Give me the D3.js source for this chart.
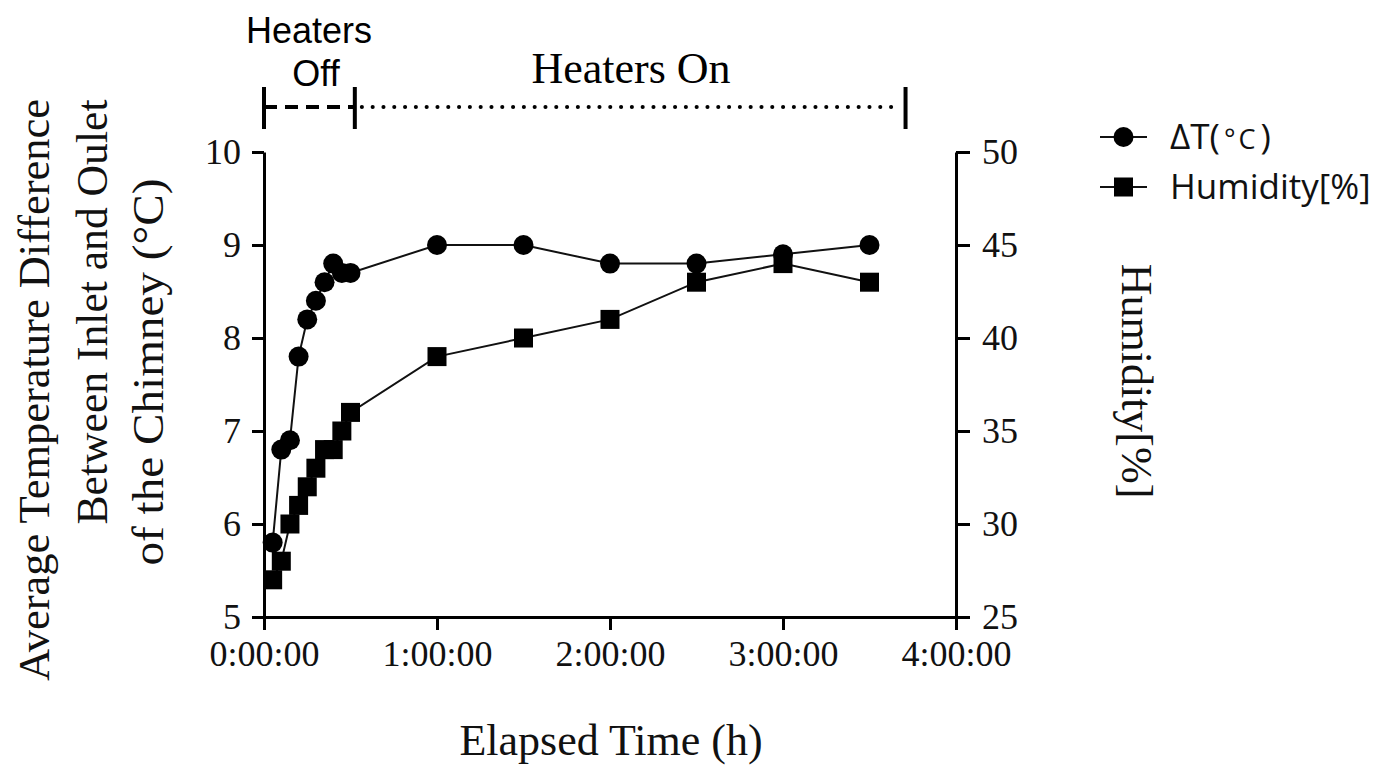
<!DOCTYPE html>
<html>
<head>
<meta charset="utf-8">
<script src="https://cdn.jsdelivr.net/npm/d3@7"></script>
<style>
  body { margin: 0; background: #fff; }
  svg { display: block; }
</style>
</head>
<body>
<svg id="chart" width="1384" height="769"></svg>
<script>
// elapsed time in minutes
const times = [3, 6, 9, 12, 15, 18, 21, 24, 27, 30, 60, 90, 120, 150, 180, 210];
// average temperature difference inlet/outlet (°C)
const deltaT = [5.8, 6.8, 6.9, 7.8, 8.2, 8.4, 8.6, 8.8, 8.7, 8.7, 9.0, 9.0, 8.8, 8.8, 8.9, 9.0];
// humidity (%)
const humidity = [27, 28, 30, 31, 32, 33, 34, 34, 35, 36, 39, 40, 41, 43, 44, 43];

const xTicks = [0, 60, 120, 180, 240];
const xTickLabels = ["0:00:00", "1:00:00", "2:00:00", "3:00:00", "4:00:00"];
const leftTicks = [5, 6, 7, 8, 9, 10];
const rightTicks = [25, 30, 35, 40, 45, 50];

// heater phases (minutes)
const phaseEdges = [0, 31.5, 222.5];
const legendLabels = ["ΔT", "Humidity[%]"];

const serif = "'Liberation Serif', 'Times New Roman', serif";
const sans = "'Liberation Sans', Arial, sans-serif";

const svg = d3.select("#chart");

const x = d3.scaleLinear().domain([0, 240]).range([264, 956]);
const yL = d3.scaleLinear().domain([5, 10]).range([617, 152]);
const yR = d3.scaleLinear().domain([25, 50]).range([617, 152]);

function styleAxis(g) {
    g.select(".domain").attr("stroke", "#000").attr("stroke-width", 3);
    g.selectAll(".tick line").attr("stroke", "#000").attr("stroke-width", 3);
    g.selectAll(".tick text")
        .attr("font-family", serif)
        .attr("font-size", 36)
        .attr("fill", "#111");
}

// axes
svg.append("g")
    .attr("transform", "translate(0,617)")
    .call(d3.axisBottom(x).tickValues(xTicks)
        .tickFormat(function (d, i) { return xTickLabels[i]; })
        .tickSize(13).tickSizeOuter(0).tickPadding(10))
    .call(styleAxis);

svg.append("g")
    .attr("transform", "translate(264,0)")
    .call(d3.axisLeft(yL).tickValues(leftTicks).tickFormat(d3.format("d"))
        .tickSize(12).tickSizeOuter(0).tickPadding(11))
    .call(styleAxis);

svg.append("g")
    .attr("transform", "translate(956,0)")
    .call(d3.axisRight(yR).tickValues(rightTicks).tickFormat(d3.format("d"))
        .tickSize(14).tickSizeOuter(0).tickPadding(12))
    .call(styleAxis);

// series lines
let tData = times.map(function (t, i) { return {t: t, v: deltaT[i]}; });
let hData = times.map(function (t, i) { return {t: t, v: humidity[i]}; });

let tLine = d3.line()
    .x(function (d) { return x(d.t); })
    .y(function (d) { return yL(d.v); });
let hLine = d3.line()
    .x(function (d) { return x(d.t); })
    .y(function (d) { return yR(d.v); });

svg.append("path").datum(hData)
    .attr("d", hLine)
    .attr("fill", "none").attr("stroke", "#111").attr("stroke-width", 2);
svg.append("path").datum(tData)
    .attr("d", tLine)
    .attr("fill", "none").attr("stroke", "#111").attr("stroke-width", 2);

svg.append("g").selectAll("rect").data(hData).enter().append("rect")
    .attr("x", function (d) { return x(d.t) - 9.5; })
    .attr("y", function (d) { return yR(d.v) - 9.5; })
    .attr("width", 19).attr("height", 19)
    .attr("fill", "#000");

svg.append("g").selectAll("circle").data(tData).enter().append("circle")
    .attr("cx", function (d) { return x(d.t); })
    .attr("cy", function (d) { return yL(d.v); })
    .attr("r", 10)
    .attr("fill", "#000");

// heater phase bracket
let br = svg.append("g");
br.append("line")
    .attr("x1", x(phaseEdges[0])).attr("x2", x(phaseEdges[1]))
    .attr("y1", 107).attr("y2", 107)
    .attr("stroke", "#000").attr("stroke-width", 4)
    .attr("stroke-dasharray", "13,8");
br.append("line")
    .attr("x1", x(phaseEdges[1]) + 7).attr("x2", x(phaseEdges[2]) - 4)
    .attr("y1", 107).attr("y2", 107)
    .attr("stroke", "#000").attr("stroke-width", 4)
    .attr("stroke-linecap", "round")
    .attr("stroke-dasharray", "0.1,10.7");
br.selectAll(".edge").data(phaseEdges).enter().append("line")
    .attr("x1", function (d) { return x(d); })
    .attr("x2", function (d) { return x(d); })
    .attr("y1", 87).attr("y2", 129)
    .attr("stroke", "#000").attr("stroke-width", 4);

br.append("text")
    .attr("x", 309).attr("y", 43)
    .attr("text-anchor", "middle")
    .attr("font-family", sans).attr("font-size", 36)
    .text("Heaters");
br.append("text")
    .attr("x", 316).attr("y", 86)
    .attr("text-anchor", "middle")
    .attr("font-family", sans).attr("font-size", 36)
    .text("Off");
br.append("text")
    .attr("x", 631).attr("y", 83)
    .attr("text-anchor", "middle")
    .attr("font-family", serif).attr("font-size", 44)
    .text("Heaters On");

// axis titles
svg.append("text")
    .attr("x", 611).attr("y", 755)
    .attr("text-anchor", "middle")
    .attr("font-family", serif).attr("font-size", 44)
    .attr("fill", "#111")
    .text("Elapsed Time (h)");

let leftTitle = [
    {text: "Average Temperature Difference", x: 49, y: 390, len: 582},
    {text: "Between Inlet and Oulet", x: 107, y: 312, len: 425},
    {text: "of the Chimney (°C)", x: 163, y: 372, len: 387}
];
svg.selectAll(".ltitle").data(leftTitle).enter().append("text")
    .attr("transform", function (d) { return "translate(" + d.x + "," + d.y + ") rotate(-90)"; })
    .attr("text-anchor", "middle")
    .attr("font-family", serif).attr("font-size", 44)
    .attr("textLength", function (d) { return d.len; })
    .attr("lengthAdjust", "spacingAndGlyphs")
    .attr("fill", "#111")
    .text(function (d) { return d.text; });

svg.append("text")
    .attr("transform", "translate(1122,381) rotate(90)")
    .attr("text-anchor", "middle")
    .attr("font-family", serif).attr("font-size", 44)
    .attr("fill", "#111")
    .text("Humidity[%]");

// legend
let lg = svg.append("g").attr("transform", "translate(1100,137)");
[0, 1].forEach(function (i) {
    let row = lg.append("g").attr("transform", "translate(0," + (i * 50) + ")");
    row.append("line")
        .attr("x1", 0).attr("x2", 47).attr("y1", 0).attr("y2", 0)
        .attr("stroke", "#111").attr("stroke-width", 2);
    if (i === 0) {
        row.append("circle").attr("cx", 23.5).attr("cy", 0).attr("r", 10).attr("fill", "#000");
    } else {
        row.append("rect").attr("x", 14).attr("y", -9.5).attr("width", 19).attr("height", 19).attr("fill", "#000");
    }
    let t = row.append("text")
        .attr("x", 70).attr("y", 12)
        .attr("font-family", "'Open Sans', sans-serif").attr("font-size", 35)
        .attr("fill", "#111");
    if (i === 0) {
        t.append("tspan").text(legendLabels[0] + "(");
        t.append("tspan").attr("dx", 4).attr("font-size", 27).attr("letter-spacing", 3).text("°C");
        t.append("tspan").attr("dx", 2).text(")");
    } else {
        t.text(legendLabels[1]);
    }
});
</script>
</body>
</html>
